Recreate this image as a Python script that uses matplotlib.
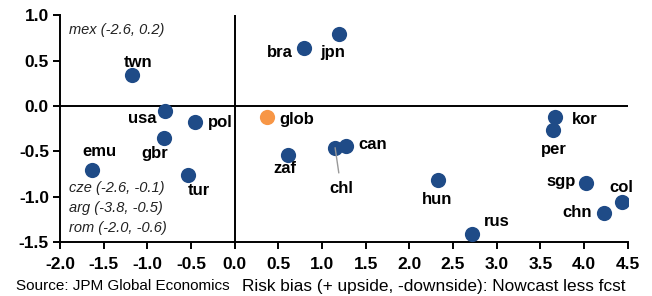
import matplotlib
matplotlib.use("Agg")
import matplotlib.pyplot as plt

plt.rcParams['font.family'] = ['Liberation Sans', 'DejaVu Sans']

# Data
countries = ["twn", "usa", "pol", "gbr", "emu", "tur", "glob", "bra", "jpn", "zaf",
             "chl", "can", "hun", "rus", "kor", "per", "sgp", "chn", "col"]
x_vals = [-1.18, -0.80, -0.45, -0.81, -1.63, -0.53, 0.37, 0.79, 1.20, 0.61,
          1.15, 1.27, 2.33, 2.72, 3.67, 3.64, 4.02, 4.23, 4.44]
y_vals = [0.34, -0.06, -0.18, -0.35, -0.71, -0.76, -0.12, 0.64, 0.79, -0.54,
          -0.46, -0.44, -0.82, -1.41, -0.12, -0.26, -0.85, -1.18, -1.06]
highlight = "glob"

# Off-chart countries
off_names = ["mex", "cze", "arg", "rom"]
off_x = [-2.6, -2.6, -3.8, -2.0]
off_y = [0.2, -0.1, -0.5, -0.6]

x_ticks = [-2.0, -1.5, -1.0, -0.5, 0.0, 0.5, 1.0, 1.5, 2.0, 2.5, 3.0, 3.5, 4.0, 4.5]
y_ticks = [1.0, 0.5, 0.0, -0.5, -1.0, -1.5]

NAVY = "#1f4b87"
ORANGE = "#f79646"

# label placement: (dx px, dy px (down positive), ha)
label_pos = {
    "twn": (6, -13, "center"), "usa": (-23, 7, "center"), "pol": (13, 0, "left"),
    "gbr": (-9, 16, "center"), "emu": (7, -19, "center"), "tur": (10, 16, "center"),
    "glob": (12, 3, "left"), "bra": (-11, 5, "right"), "jpn": (-7, 18, "center"),
    "zaf": (-3, 14, "center"), "chl": (6, 41, "center"), "can": (13, -1, "left"),
    "hun": (-1, 19, "center"), "rus": (12, -12, "left"), "kor": (17, 3, "left"),
    "per": (1, 20, "center"), "sgp": (-10, -2, "right"), "chn": (-12, 0, "right"),
    "col": (-1, -15, "center"),
}

fig = plt.figure(figsize=(6.52, 2.96), dpi=100)
ax = fig.add_axes([60 / 652, 54 / 296, 567.7 / 652, 226.7 / 296])

ax.set_xlim(-2.0, 4.5)
ax.set_ylim(-1.5, 1.0)

ax.axhline(0, color="black", lw=1.4, zorder=1)
ax.axvline(0, color="black", lw=1.4, zorder=1)

for name, x, y in zip(countries, x_vals, y_vals):
    c = ORANGE if name == highlight else NAVY
    ax.scatter([x], [y], s=120, color=c, zorder=3, linewidths=0)
    dx, dy, ha = label_pos[name]
    kw = dict(textcoords="offset points", ha=ha, va="center",
              fontsize=12, fontweight="bold", color="black")
    if name == "chl":
        kw["arrowprops"] = dict(arrowstyle="-", color="#999999", lw=1.0,
                                shrinkA=4, shrinkB=0)
    ax.annotate(name, xy=(x, y), xytext=(dx * 0.72, -dy * 0.72), **kw)

# Off-chart notes
note_y = [0.935, 0.237, 0.149, 0.061]
for n, ox, oy, ny in zip(off_names, off_x, off_y, note_y):
    ax.text(0.016, ny, f"{n} ({ox:.1f}, {oy:.1f})", transform=ax.transAxes,
            fontsize=10.5, fontstyle="italic", color="#222222", va="center", ha="left")

ax.set_xticks(x_ticks)
ax.set_yticks(y_ticks)
ax.set_xticklabels([f"{t:.1f}" for t in x_ticks])
ax.set_yticklabels([f"{t:.1f}" for t in y_ticks])
ax.tick_params(axis="both", direction="out", length=5, width=1.4, labelsize=12.5)
ax.tick_params(axis="x", pad=6)
ax.tick_params(axis="y", pad=3)
for lbl in ax.get_xticklabels() + ax.get_yticklabels():
    lbl.set_fontweight("bold")

for s in ["top", "right"]:
    ax.spines[s].set_visible(False)
for s in ["left", "bottom"]:
    ax.spines[s].set_linewidth(1.4)

fig.text(16 / 652, 1 - 286 / 296, "Source: JPM Global Economics", fontsize=11,
         ha="left", va="center")
fig.text(626 / 652, 1 - 286 / 296, "Risk bias (+ upside, -downside): Nowcast less fcst",
         fontsize=12.4, ha="right", va="center")

fig.savefig("out.png", dpi=100)
